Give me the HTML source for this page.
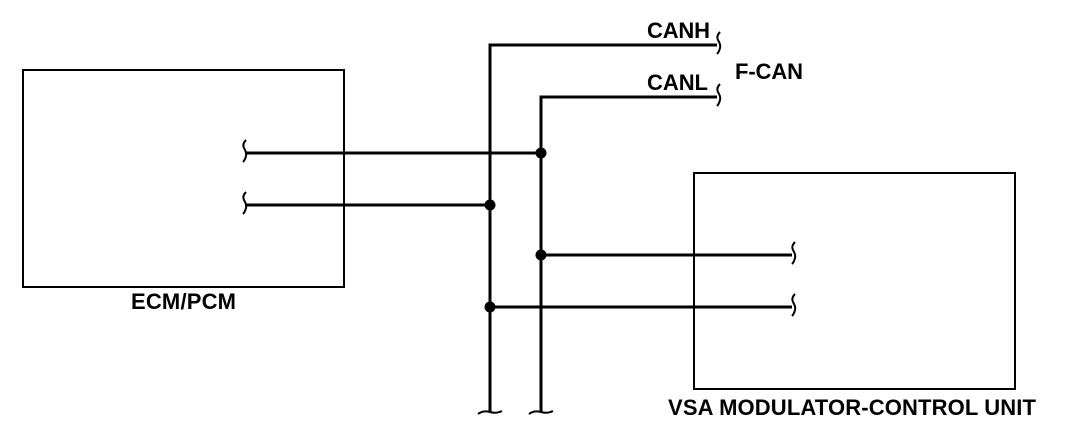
<!DOCTYPE html>
<html><head><style>
body{margin:0;background:#fff}
svg{display:block}
text{font-family:"Liberation Sans",sans-serif;font-weight:bold;font-size:22px;fill:#000}
</style></head><body>
<svg width="1072" height="438" viewBox="0 0 1072 438">
<g fill="none" stroke="#000">
<rect x="23" y="70" width="321" height="217" stroke-width="2"/>
<rect x="694" y="173" width="321" height="216" stroke-width="2"/>
<g stroke-width="3">
<polyline points="490,412 490,45 717,45"/>
<polyline points="541,412 541,97 717,97"/>
<line x1="245" y1="153" x2="541" y2="153"/>
<line x1="245" y1="205" x2="490" y2="205"/>
<line x1="541" y1="255" x2="792" y2="255"/>
<line x1="490" y1="307" x2="792" y2="307"/>
</g>
<g stroke-width="2">
<path d="M720,32 q-4,4 -2,8 q3,5 2,8 q-1,4 -3,6"/>
<path d="M720,84 q-4,4 -2,8 q3,5 2,8 q-1,4 -3,6"/>
<path d="M246,140 q-4,4 -2,8 q3,5 2,8 q-1,4 -3,6"/>
<path d="M246,192 q-4,4 -2,8 q3,5 2,8 q-1,4 -3,6"/>
<path d="M795,242 q-4,4 -2,8 q3,5 2,8 q-1,4 -3,6"/>
<path d="M795,294 q-4,4 -2,8 q3,5 2,8 q-1,4 -3,6"/>
<path d="M478,414 q5,-4 12,-2 q6,2 12,-1"/>
<path d="M529,414 q5,-4 12,-2 q6,2 12,-1"/>
</g>
</g>
<g fill="#000">
<circle cx="541" cy="153" r="5.5"/>
<circle cx="490" cy="205" r="5.5"/>
<circle cx="541" cy="255" r="5.5"/>
<circle cx="490" cy="307" r="5.5"/>
</g>
<text x="647" y="38" textLength="63">CANH</text>
<text x="647" y="90" textLength="61">CANL</text>
<text x="735" y="79" textLength="68">F-CAN</text>
<text x="131" y="309" textLength="105">ECM/PCM</text>
<text x="668" y="415" textLength="368">VSA MODULATOR-CONTROL UNIT</text>
</svg>
</body></html>
